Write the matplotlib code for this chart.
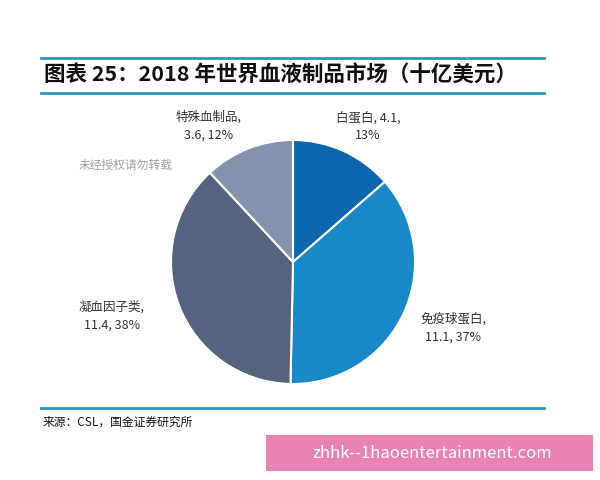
import matplotlib.pyplot as plt
from matplotlib.patches import Rectangle

plt.rcParams['font.family'] = ['Noto Sans CJK SC', 'DejaVu Sans']

# data
names = ['白蛋白', '免疫球蛋白', '凝血因子类', '特殊血制品']
values = [4.1, 11.1, 11.4, 3.6]
shares = [13, 37, 38, 12]
colors = ['#0b67ad', '#1888c6', '#56637e', '#8592ac']

W, H = 600, 480
fig = plt.figure(figsize=(6, 4.8), dpi=100)

def fx(x):
    return x / W

def fy(y):
    return 1 - y / H

# pie axes: center (293, 262), radius 122 px
cx, cy, r = 293, 262, 122
ax = fig.add_axes([fx(cx - r), fy(cy + r), 2 * r / W, 2 * r / H])
ax.pie(values, colors=colors, startangle=90, counterclock=False,
       wedgeprops=dict(edgecolor='white', linewidth=1.5))
ax.set_xlim(-1, 1)
ax.set_ylim(-1, 1)
ax.set_aspect('equal')
ax.axis('off')

# slice labels
label_text = [
    f'{names[0]}, {values[0]},\n{shares[0]}%',
    f'{names[1]},\n{values[1]}, {shares[1]}%',
    f'{names[2]},\n{values[2]}, {shares[2]}%',
    f'{names[3]},\n{values[3]}, {shares[3]}%',
]
label_pos = [(368, 127), (453, 328), (112, 316), (209, 126)]
for txt, (x, y) in zip(label_text, label_pos):
    fig.text(fx(x), fy(y), txt, ha='center', va='center', fontsize=9,
             color='#333333', linespacing=1.45)

# header / footer rules
for y in (58, 93, 408):
    fig.add_artist(plt.Line2D([fx(41), fx(544)], [fy(y), fy(y)],
                              color='#2b97bd', linewidth=2))

fig.text(fx(44), fy(75), '图表 25：2018 年世界血液制品市场（十亿美元）',
         ha='left', va='center', fontsize=15.5, fontweight='bold', color='#111111')
fig.text(fx(43), fy(422), '来源：CSL，国金证券研究所', ha='left', va='center',
         fontsize=8.5, color='#111111')

# watermarks
fig.text(fx(126), fy(165), '未经授权请勿转载', ha='center', va='center',
         fontsize=8.5, color='#a0a0a0')
fig.add_artist(Rectangle((fx(266), fy(471)), fx(593) - fx(266), fy(435) - fy(471),
                         transform=fig.transFigure, facecolor='#e883b3',
                         edgecolor='none'))
fig.text(fx(432), fy(453), 'zhhk--1haoentertainment.com', ha='center', va='center',
         fontsize=12, color='white')

fig.savefig('out.png', dpi=100, facecolor='white')
